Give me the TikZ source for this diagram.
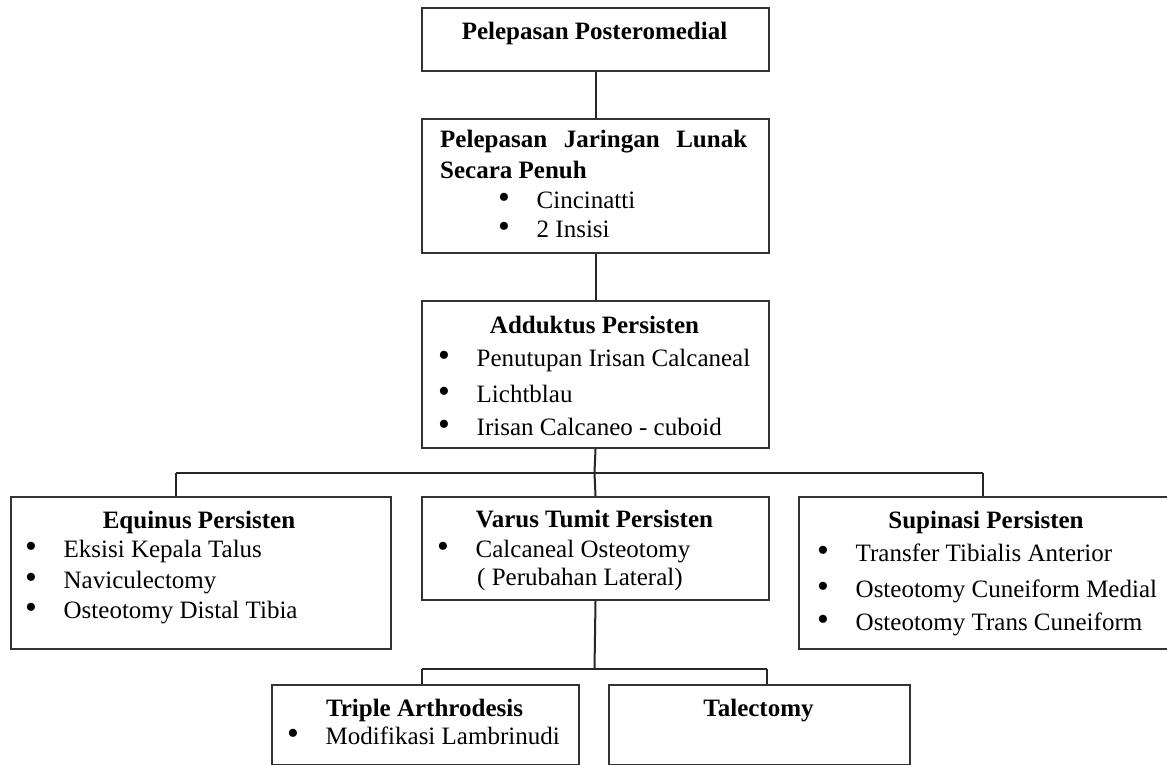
\documentclass[tikz,border=0pt]{standalone}
\usepackage{fontspec}
\setmainfont{Liberation Serif}
\usepackage{tikz}
\usetikzlibrary{positioning}
\tikzstyle{every node}+=[inner sep=0pt]
\tikzstyle{box} = [rectangle, draw=black!80, line width=2pt, anchor=north west]
\tikzstyle{head} = [font=\fontsize{25}{30}\selectfont\bfseries, anchor=base]
\tikzstyle{item} = [font=\fontsize{25}{30}\selectfont, anchor=base west]
\tikzstyle{line} = [draw, draw=black!85, line width=2pt]
\newcommand{\bul}{\makebox[38.5pt][l]{\raisebox{-0.5pt}{\scalebox{1.35}{\textbullet}}}}

\begin{document}
\begin{tikzpicture}[x=1pt, y=-1pt]
            \useasboundingbox (0,0) rectangle (1167,765);
            \clip (0,0) rectangle (1167,765);
            % Place boxes
            \node [box, minimum width=347, minimum height=63] (post) at (421,7) {};
            \node [box, minimum width=347, minimum height=134] (lunak) at (421,118) {};
            \node [box, minimum width=347, minimum height=147] (add) at (421,300) {};
            \node [box, minimum width=380, minimum height=152] (equ) at (10,496) {};
            \node [box, minimum width=347, minimum height=103] (var) at (421,496) {};
            \node [box, minimum width=380, minimum height=152] (sup) at (798,496) {};
            \node [box, minimum width=307, minimum height=80] (tri) at (271,684) {};
            \node [box, minimum width=301, minimum height=80] (tal) at (608,684) {};
            % Place texts
            \node [head] (postT) at (594.5,40) {Pelepasan Posteromedial};
            \node [head, anchor=base west] (lunakT) at (440,148) {\makebox[307pt][s]{Pelepasan Jaringan Lunak}};
            \node [head, anchor=base west] (lunakU) at (440,178) {Secara Penuh};
            \node [item] (lunak1) at (498,208) {\bul Cincinatti};
            \node [item] (lunak2) at (498,237) {\bul 2 Insisi};
            \node [head] (addT) at (594.5,333) {Adduktus Persisten};
            \node [item] (add1) at (438,366) {\bul Penutupan Irisan Calcaneal};
            \node [item] (add2) at (438,402) {\bul Lichtblau};
            \node [item] (add3) at (438,435) {\bul Irisan Calcaneo - cuboid};
            \node [head] (equT) at (199,528) {Equinus Persisten};
            \node [item] (equ1) at (25,557) {\bul Eksisi Kepala Talus};
            \node [item] (equ2) at (25,588) {\bul Naviculectomy};
            \node [item] (equ3) at (25,618) {\bul Osteotomy Distal Tibia};
            \node [head] (varT) at (594.5,527) {Varus Tumit Persisten};
            \node [item] (var1) at (437,557) {\bul Calcaneal Osteotomy};
            \node [item] (var2) at (477,585) {( Perubahan Lateral)};
            \node [head] (supT) at (986,528) {Supinasi Persisten};
            \node [item] (sup1) at (817,561) {\bul Transfer Tibialis Anterior};
            \node [item] (sup2) at (817,597) {\bul Osteotomy Cuneiform Medial};
            \node [item] (sup3) at (817,630) {\bul Osteotomy Trans Cuneiform};
            \node [head] (triT) at (424.5,716) {Triple Arthrodesis};
            \node [item] (tri1) at (287,744) {\bul Modifikasi Lambrinudi};
            \node [head] (talT) at (758.5,716) {Talectomy};
            % Branch points
            \coordinate (j1) at (594.5,473);
            \coordinate (jl) at (176,473);
            \coordinate (jr) at (983,473);
            \coordinate (j2) at (594.5,669);
            \coordinate (jl2) at (422,669);
            \coordinate (jr2) at (767,669);
            % Draw edges
            \path [line] (post) -- (lunak);
            \path [line] (lunak) -- (add);
            \path [line] (add.south) -- (j1);
            \path [line] (jl) -- (jr);
            \path [line] (jl) -- (jl |- equ.north);
            \path [line] (j1) -- (var.north);
            \path [line] (jr) -- (jr |- sup.north);
            \path [line] (var.south) -- (j2);
            \path [line] (jl2) -- (jr2);
            \path [line] (jl2) -- (jl2 |- tri.north);
            \path [line] (jr2) -- (jr2 |- tal.north);
          \end{tikzpicture}
\end{document}
